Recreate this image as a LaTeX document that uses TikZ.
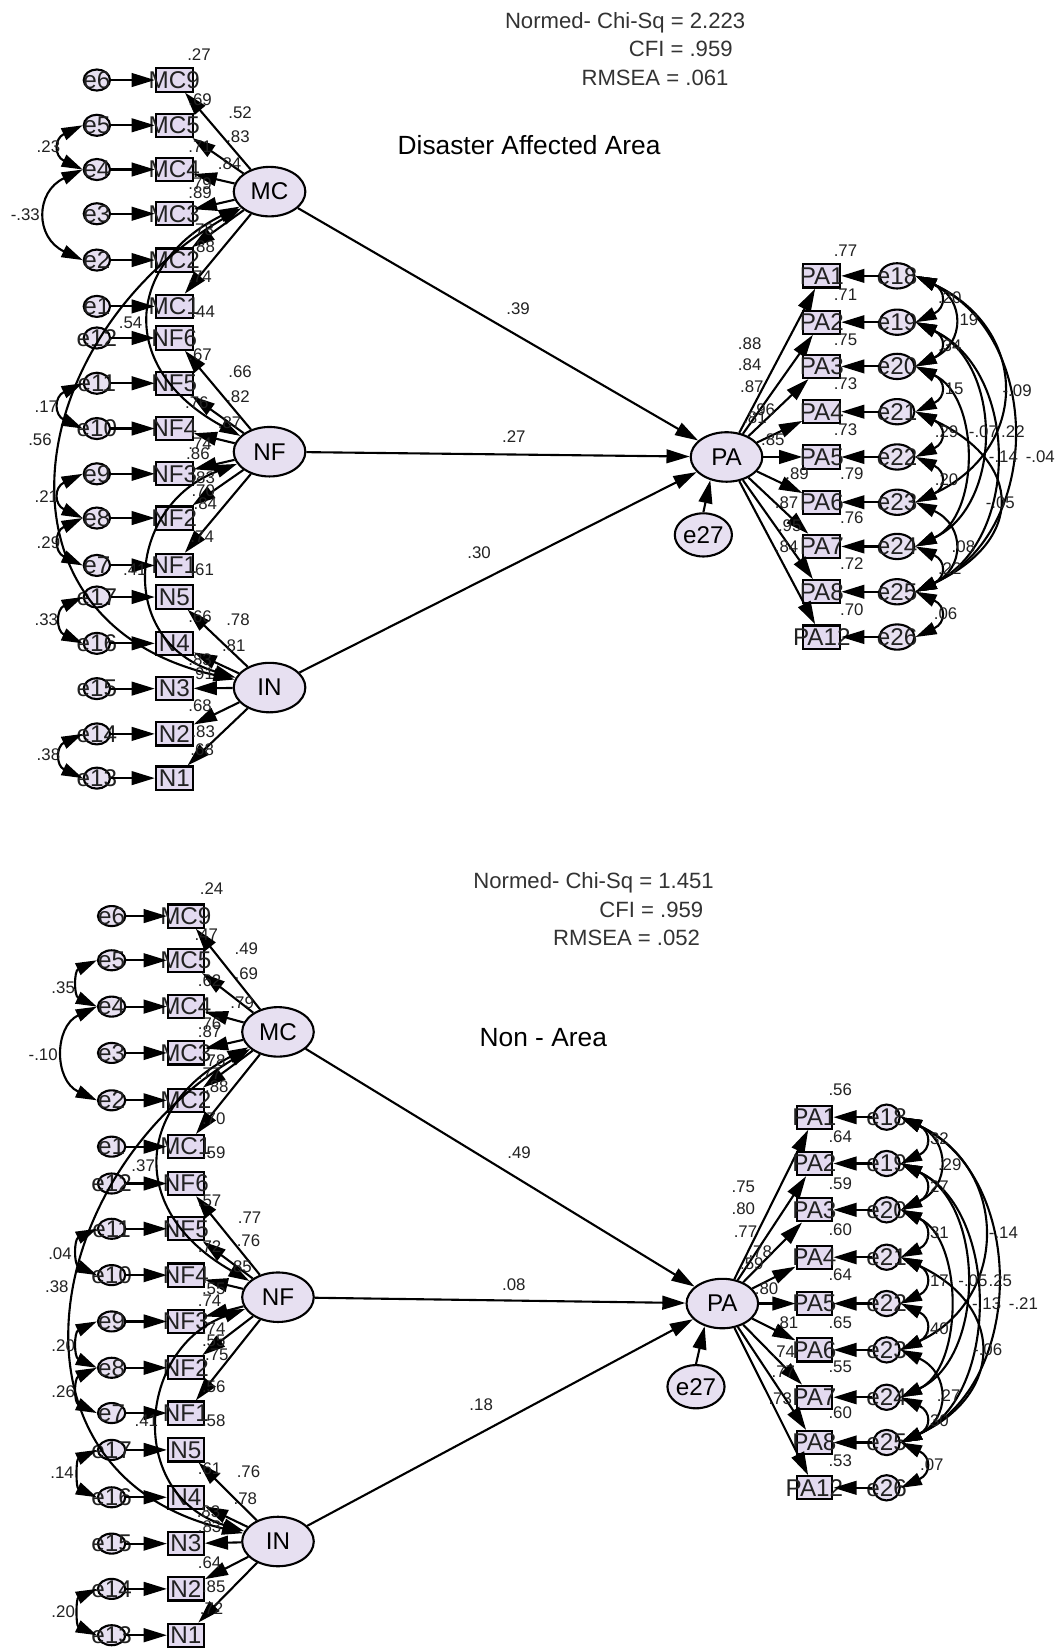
\documentclass[tikz,border=0pt]{standalone}
\usepackage{fontspec}
\setmainfont{Liberation Sans}
\usetikzlibrary{shapes.geometric, arrows.meta}
\definecolor{xlav}{HTML}{E7E0F1}
\definecolor{xlavbox}{HTML}{E3DAF0}
\definecolor{xtext}{HTML}{222222}
\tikzset{
  nodetext/.style = {font=\fontsize{23}{23}\selectfont, inner sep=0pt, text=xtext},
  latent/.style = {draw, line width=2pt, ellipse, fill=xlav, minimum width=68pt, minimum height=47pt, inner sep=0pt, font=\fontsize{23}{23}\selectfont},
  observed/.style = {draw, line width=2pt, fill=xlavbox, minimum width=35pt, minimum height=22pt, inner sep=0pt, label={[nodetext]center:#1}},
  errsmall/.style = {draw, line width=2pt, ellipse, fill=xlav, minimum width=25pt, minimum height=20pt, inner sep=0pt, label={[nodetext]center:#1}},
  errbig/.style = {errsmall=#1, minimum width=33pt, minimum height=24pt},
  regpath/.style = {line width=2pt, -{Triangle[length=22pt, width=13pt]}},
  covpath/.style = {line width=2pt, {Triangle[length=20pt, width=12pt]}-{Triangle[length=20pt, width=12pt]}},
  coef/.style = {font=\fontsize{16}{16}\selectfont, inner sep=0pt, text=xtext},
  fitstat/.style = {font=\fontsize{21}{21}\selectfont, inner sep=0pt, text=black!80},
  paneltitle/.style = {font=\fontsize{25}{25}\selectfont, inner sep=0pt},
}
\begin{document}
\begin{tikzpicture}[x=1pt, y=-1pt]
  \fill[white] (0,0) rectangle (1004,1568);
  \useasboundingbox (0,0) rectangle (1004,1568);

  % ---------- disaster affected area ----------
  \node[fitstat, anchor=base east] (tchi)   at (708,27) {Normed- Chi-Sq = 2.223};
  \node[fitstat, anchor=base east] (tcfi)   at (696,54) {CFI = .959};
  \node[fitstat, anchor=base east] (trmsea) at (692,81) {RMSEA = .061};
  \node[paneltitle, anchor=base] (ttitle) at (502.5,147) {Disaster Affected Area};

  \node[latent] (tMC) at (256,182) {MC};
  \node[latent] (tNF) at (256,429) {NF};
  \node[latent] (tIN) at (256,653) {IN};
  \node[latent] (tPA) at (690,434) {PA};
  \node[latent, minimum width=51pt, minimum height=41pt] (te27) at (668,508) {e27};

  \foreach \ind/\err/\y/\fac in {MC9/e6/76/MC, MC5/e5/119/MC, MC4/e4/161/MC, MC3/e3/203/MC, MC2/e2/247/MC, MC1/e1/291/MC,
      NF6/e12/321/NF, NF5/e11/364/NF, NF4/e10/407/NF, NF3/e9/450/NF, NF2/e8/492/NF, NF1/e7/537/NF,
      N5/e17/567/IN, N4/e16/611/IN, N3/e15/654/IN, N2/e14/697/IN, N1/e13/739/IN}
  {
    \node[observed=\ind] (t\ind) at (165.5,\y) {};
    \node[errsmall=\err] (t\err) at (92,\y) {};
    \draw[regpath] (t\err) -- (t\ind);
    \draw[regpath] (t\fac) -- (t\ind);
  }
  \foreach \ind/\err/\y in {PA1/e18/262, PA2/e19/306, PA3/e20/348, PA4/e21/391, PA5/e22/434,
      PA6/e23/477, PA7/e24/519, PA8/e25/562, PA12/e26/605}
  {
    \node[observed=\ind] (t\ind) at (780.5,\y) {};
    \node[errbig=\err] (t\err) at (852,\y) {};
    \draw[regpath] (t\err) -- (t\ind);
    \draw[regpath] (tPA) -- (t\ind);
  }

  \draw[regpath] (tMC) -- (tPA);
  \draw[regpath] (tNF) -- (tPA);
  \draw[regpath] (tIN) -- (tPA);
  \draw[regpath] (te27.north) -- (tPA.235);

  \draw[covpath] (tMC) .. controls (120,250) and (110,350) .. (tNF);
  \draw[covpath] (tMC) .. controls (20,320) and (-20,590) .. (tIN);
  \draw[covpath] (tNF) .. controls (120,480) and (110,610) .. (tIN);

  \foreach \a/\b/\d in {e5/e4/30pt, e4/e2/50pt, e11/e10/30pt, e9/e8/30pt, e8/e7/30pt, e17/e16/28pt, e14/e13/28pt}
    \draw[covpath] (t\a.west) to[out=205, in=155, distance=\d] (t\b.west);
  \foreach \a/\b/\d in {e18/e19/32pt, e19/e20/32pt, e20/e21/32pt, e21/e22/32pt, e22/e23/32pt, e24/e25/32pt, e25/e26/32pt,
      e18/e20/52pt, e23/e25/52pt, e18/e23/120pt, e18/e25/134pt, e19/e24/92pt, e19/e25/110pt, e20/e24/68pt, e21/e25/114pt}
    \draw[covpath] (t\a.east) to[out=-25, in=25, distance=\d] (t\b.east);

  \foreach \x/\y/\t [count=\i] in {492/293/.39, 488/415/.27, 455/525/.30,
      189/52/.27, 190/95/.69, 228/107/.52, 226/130/.83, 190/139/.71, 218/155/.84, 190/174/.79, 190/183/.89,
      192/218/.78, 193/234/.88, 190/263/.74, 193/296/.44, 124/307/.54, 190/337/.67, 228/353/.66, 226/377/.82,
      187/382/.76, 218/401/.87, 190/421/.74, 188/431/.86, 193/454/.83, 193/466/.70, 195/478/.84, 192/510/.74,
      192/541/.61, 128/541/.41, 46/139/.23, 24/204/-.33, 44/386/.17, 38/418/.56, 44/472/.21, 46/515/.29,
      44/589/.33, 190/586/.66, 226/589/.78, 222/613/.81, 190/627/.83, 192/640/.91, 190/670/.68, 193/695/.83,
      192/712/.68, 46/717/.38,
      803/238/.77, 803/280/.71, 803/323/.75, 803/364/.73, 803/408/.73, 712/326/.88, 712/346/.84, 714/367/.87,
      725/389/.96, 717/397/.81, 734/418/.85, 902/283/.20, 918/304/.19, 902/328/.34, 904/369/.15, 966/371/-.09,
      899/410/.29, 934/410/-.07, 962/410/.22, 953/434/-.14, 988/434/-.04, 757/450/.89, 809/450/.79, 899/456/.20,
      950/477/-.05, 747/477/.87, 809/492/.76, 750/499/.95, 747/519/.84, 915/519/.08, 809/535/.72, 902/540/.22,
      809/579/.70, 898/583/.06}
    \node[coef] (tc\i) at (\x,\y) {\t};

  % ---------- non area ----------
  \node[fitstat, anchor=base east] (bchi)   at (678,844) {Normed- Chi-Sq = 1.451};
  \node[fitstat, anchor=base east] (bcfi)   at (668,871) {CFI = .959};
  \node[fitstat, anchor=base east] (brmsea) at (665,898) {RMSEA = .052};
  \node[paneltitle, anchor=base] (btitle) at (516,994) {Non - Area};

  \node[latent] (bMC) at (264,980) {MC};
  \node[latent] (bNF) at (264,1232) {NF};
  \node[latent] (bIN) at (264,1464) {IN};
  \node[latent] (bPA) at (686,1238) {PA};
  \node[latent, minimum width=51pt, minimum height=41pt] (be27) at (661,1317) {e27};

  \foreach \ind/\err/\y/\fac in {MC9/e6/870/MC, MC5/e5/912/MC, MC4/e4/956/MC, MC3/e3/1000/MC, MC2/e2/1045/MC, MC1/e1/1089/MC,
      NF6/e12/1124/NF, NF5/e11/1167/NF, NF4/e10/1211/NF, NF3/e9/1255/NF, NF2/e8/1299/NF, NF1/e7/1342/NF,
      N5/e17/1377/IN, N4/e16/1422/IN, N3/e15/1466/IN, N2/e14/1509/IN, N1/e13/1553/IN}
  {
    \node[observed=\ind, minimum width=34pt] (b\ind) at (176.5,\y) {};
    \node[errsmall=\err, minimum width=26pt, minimum height=19pt] (b\err) at (106,\y) {};
    \draw[regpath] (b\err) -- (b\ind);
    \draw[regpath] (b\fac) -- (b\ind);
  }
  \foreach \ind/\err/\y in {PA1/e18/1061, PA2/e19/1105, PA3/e20/1149, PA4/e21/1194, PA5/e22/1238,
      PA6/e23/1282, PA7/e24/1327, PA8/e25/1370, PA12/e26/1413}
  {
    \node[observed=\ind, minimum width=34pt] (b\ind) at (773.5,\y) {};
    \node[errsmall=\err, minimum width=25pt, minimum height=24pt] (b\err) at (842,\y) {};
    \draw[regpath] (b\err) -- (b\ind);
    \draw[regpath] (bPA) -- (b\ind);
  }

  \draw[regpath] (bMC) -- (bPA);
  \draw[regpath] (bNF) -- (bPA);
  \draw[regpath] (bIN) -- (bPA);
  \draw[regpath] (be27.north) -- (bPA.232);

  \draw[covpath] (bMC) .. controls (130,1050) and (120,1150) .. (bNF);
  \draw[covpath] (bMC) .. controls (35,1120) and (-5,1400) .. (bIN);
  \draw[covpath] (bNF) .. controls (130,1280) and (120,1420) .. (bIN);

  \foreach \a/\b/\d in {e5/e4/24pt, e4/e2/45pt, e11/e10/24pt, e9/e8/24pt, e8/e7/24pt, e17/e16/22pt, e14/e13/22pt}
    \draw[covpath] (b\a.west) to[out=205, in=155, distance=\d] (b\b.west);
  \foreach \a/\b/\d in {e18/e19/32pt, e19/e20/32pt, e20/e21/32pt, e21/e22/32pt, e22/e23/32pt, e24/e25/32pt, e25/e26/32pt,
      e18/e20/52pt, e23/e25/52pt, e18/e23/114pt, e18/e25/132pt, e19/e24/89pt, e19/e25/104pt, e20/e24/66pt, e21/e25/109pt}
    \draw[covpath] (b\a.east) to[out=-25, in=25, distance=\d] (b\b.east);

  \foreach \x/\y/\t [count=\i] in {493/1095/.49, 488/1220/.08, 457/1334/.18,
      201/844/.24, 196/888/.47, 234/901/.49, 234/925/.69, 199/931/.62, 230/952/.79, 199/972/.76, 199/980/.87,
      203/1007/.78, 199/1020/.77, 206/1032/.88, 203/1062/.70, 203/1095/.59, 60/938/.35, 41/1002/-.10,
      136/1107/.37, 199/1140/.57, 237/1156/.77, 236/1178/.76, 199/1184/.72, 228/1203/.85, 203/1224/.55,
      199/1235/.74, 203/1262/.74, 203/1273/.55, 206/1287/.75, 203/1317/.56, 203/1349/.58, 139/1349/.41,
      57/1191/.04, 54/1222/.38, 60/1278/.20, 60/1322/.26, 59/1399/.14, 199/1395/.61, 236/1398/.76,
      233/1423/.78, 198/1436/.83, 199/1450/.83, 199/1484/.64, 203/1507/.85, 201/1528/.72, 60/1531/.20,
      798/1035/.56, 798/1080/.64, 798/1124/.59, 798/1168/.60, 798/1211/.64, 706/1127/.75, 706/1148/.80,
      708/1170/.77, 722/1189/.78, 714/1200/.59, 890/1081/.32, 902/1106/.29, 890/1127/.27, 890/1171/.31,
      953/1171/-.14, 890/1216/.17, 924/1216/-.05, 950/1216/.25, 728/1224/.80, 937/1238/-.13, 972/1238/-.21,
      747/1256/.81, 798/1256/.65, 890/1262/.40, 938/1282/-.06, 744/1284/.74, 798/1298/.55, 744/1303/.77,
      741/1328/.73, 901/1325/.27, 798/1342/.60, 890/1349/.30, 798/1387/.53, 885/1391/.07}
    \node[coef] (bc\i) at (\x,\y) {\t};
\end{tikzpicture}
\end{document}
